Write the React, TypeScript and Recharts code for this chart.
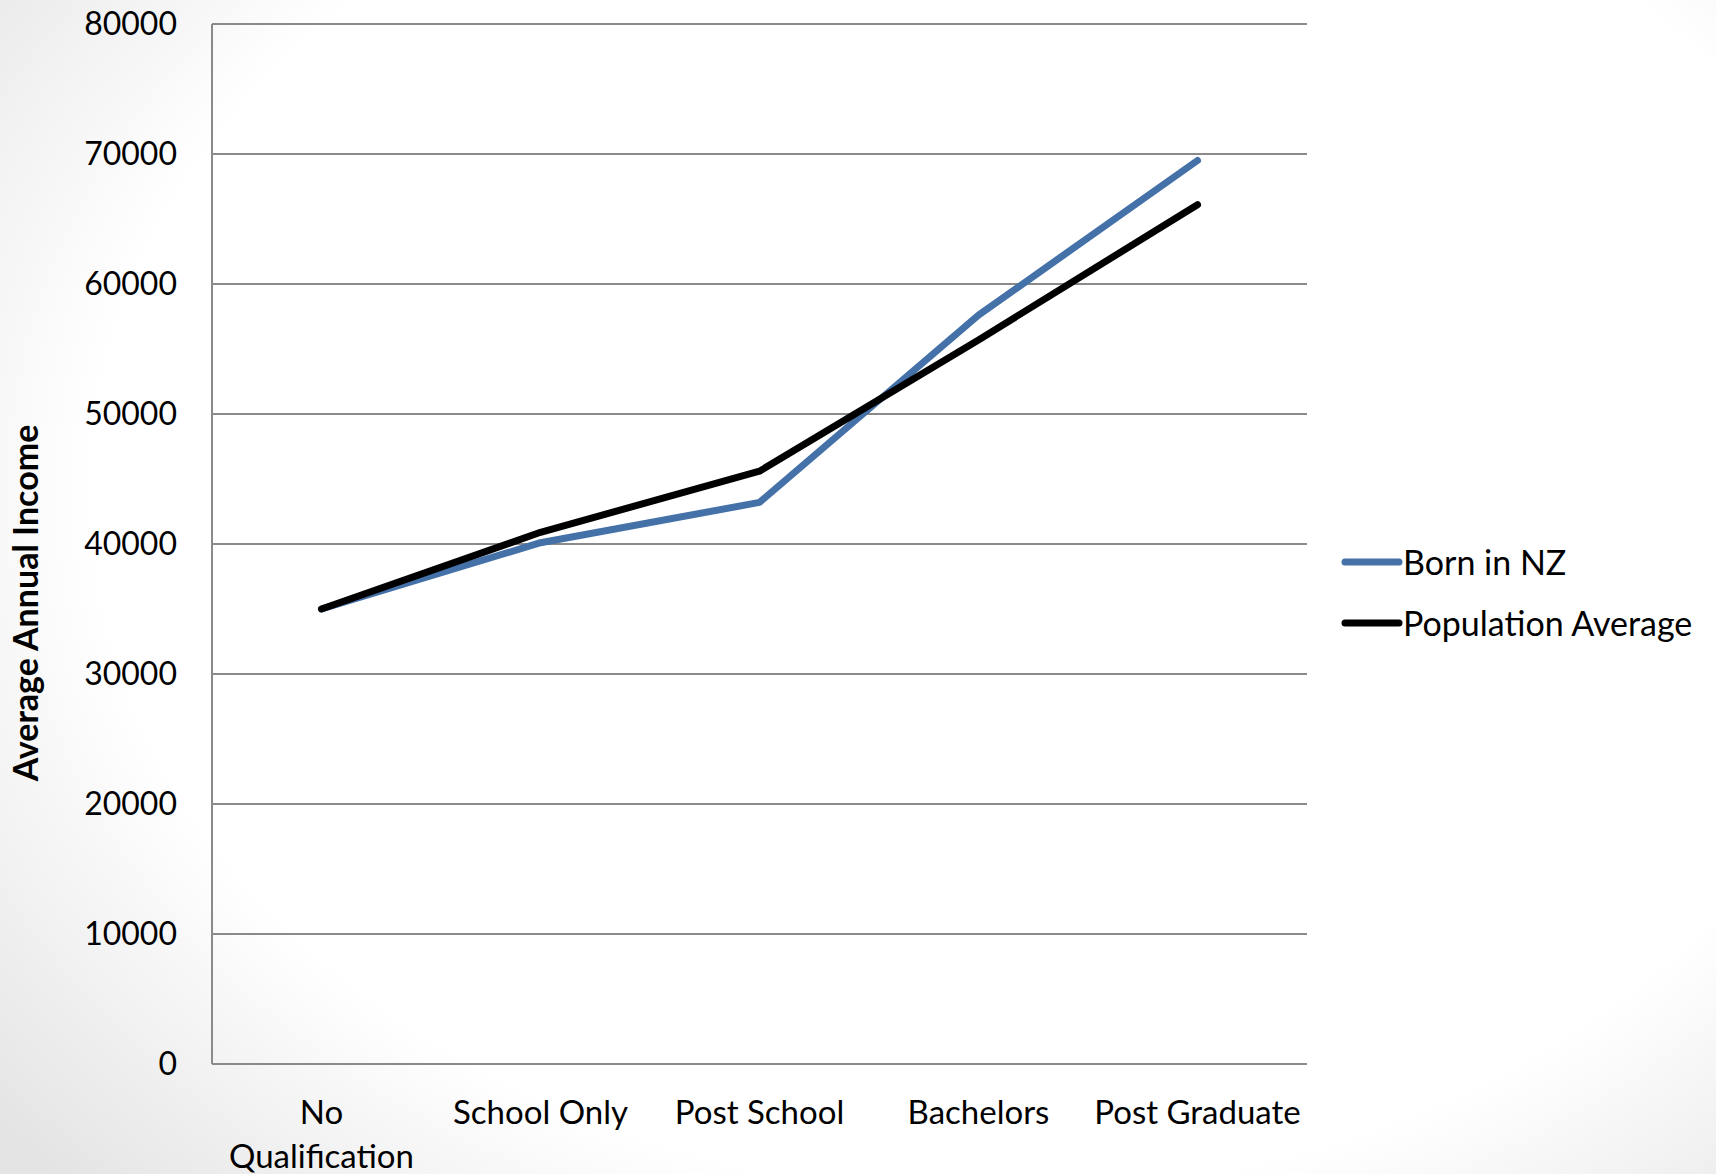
import React from "react";
import { CartesianGrid, Label, Legend, Line, LineChart, XAxis, YAxis } from "recharts";

const categories = ["No Qualification", "School Only", "Post School", "Bachelors", "Post Graduate"];
const bornInNz = [35000, 40100, 43200, 57600, 69500];
const populationAverage = [35000, 40900, 45600, 55700, 66100];
const yTicks = [0, 10000, 20000, 30000, 40000, 50000, 60000, 70000, 80000];

const seriesInfo = [
  { key: "bornInNz", name: "Born in NZ", color: "#4471a8" },
  { key: "populationAverage", name: "Population Average", color: "#000000" },
];

const data = categories.map((category, i) => ({
  category,
  bornInNz: bornInNz[i],
  populationAverage: populationAverage[i],
}));

const FONT = "Lato, 'Open Sans', sans-serif";
const GRID = "#8a8a8a";

function CategoryTick({ x, y, payload }: any) {
  const label: string = payload.value;
  // long names wrap onto two lines, like the source
  const lines = label.length > 14 ? label.split(" ") : [label];
  return (
    <text x={x} y={y} textAnchor="middle" fill="#000" fontSize={33} fontFamily={FONT}>
      {lines.map((line, i) => (
        <tspan key={i} x={x} dy={i === 0 ? 52 : 44}>
          {line}
        </tspan>
      ))}
    </text>
  );
}

function LegendBox() {
  return (
    <div style={{ fontFamily: FONT, fontSize: 34, color: "#000" }}>
      {seriesInfo.map((s) => (
        <div key={s.key} style={{ display: "flex", alignItems: "center", height: 61 }}>
          <svg width={62} height={12} style={{ display: "block" }}>
            <line x1={4} y1={6} x2={58} y2={6} stroke={s.color} strokeWidth={7} strokeLinecap="round" />
          </svg>
          <span style={{ whiteSpace: "nowrap" }}>{s.name}</span>
        </div>
      ))}
    </div>
  );
}

export default function App() {
  return (
    <div
      style={{
        position: "absolute",
        left: 0,
        top: 0,
        width: 1716,
        height: 1174,
        background: "radial-gradient(ellipse 75% 85% at 58% 42%, #ffffff 70%, #e4e4e4 100%)",
      }}
    >
      <LineChart width={1716} height={1174} data={data} margin={{ top: 24, right: 409, left: 0, bottom: 0 }}>
        <CartesianGrid stroke={GRID} strokeWidth={2} vertical={false} />
        <XAxis
          dataKey="category"
          height={110}
          interval={0}
          padding={{ left: 109.5, right: 109.5 }}
          tickLine={false}
          axisLine={{ stroke: GRID, strokeWidth: 2 }}
          tick={<CategoryTick />}
        />
        <YAxis
          width={212}
          domain={[0, 80000]}
          ticks={yTicks}
          interval={0}
          tickLine={false}
          tickSize={0}
          tickMargin={35}
          axisLine={{ stroke: GRID, strokeWidth: 2 }}
          tick={{ fill: "#000", fontSize: 32, fontFamily: FONT }}
        >
          <Label
            content={() => (
              <text
                x={24}
                y={603}
                transform="rotate(-90, 24, 603)"
                textAnchor="middle"
                dominantBaseline="central"
                fontSize={34}
                fontWeight="bold"
                fontFamily={FONT}
                fill="#000"
              >
                Average Annual Income
              </text>
            )}
          />
        </YAxis>
        <Legend
          layout="vertical"
          align="center"
          verticalAlign="middle"
          wrapperStyle={{ left: 1341, top: 531, width: "auto" }}
          content={<LegendBox />}
        />
        {seriesInfo.map((s) => (
          <Line
            key={s.key}
            type="linear"
            dataKey={s.key}
            name={s.name}
            stroke={s.color}
            strokeWidth={7}
            strokeLinecap="round"
            strokeLinejoin="round"
            dot={false}
            activeDot={false}
            isAnimationActive={false}
          />
        ))}
      </LineChart>
    </div>
  );
}
